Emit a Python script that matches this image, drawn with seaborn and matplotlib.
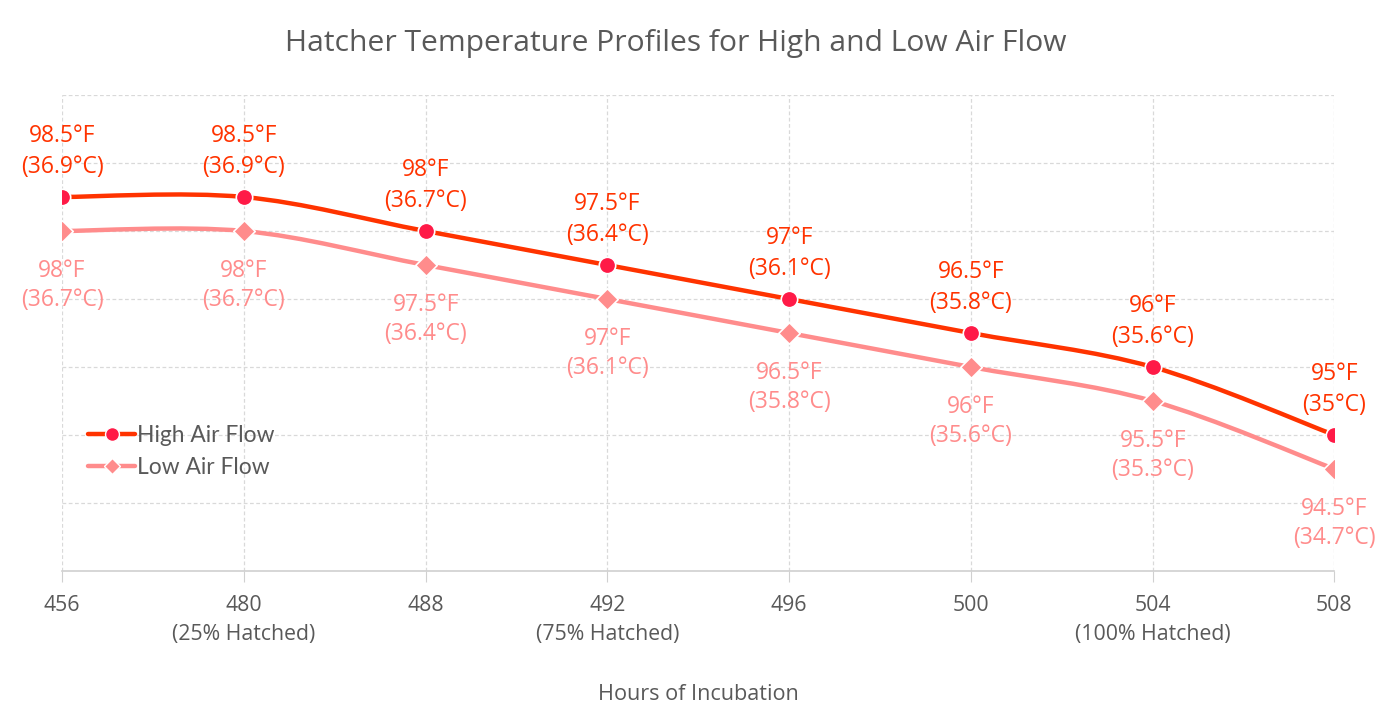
"""
Hatcher temperature profiles, high vs low air flow.
"""

import matplotlib
matplotlib.use("Agg")
import matplotlib.pyplot as plt
from matplotlib.path import Path
from matplotlib.patches import PathPatch
from matplotlib.lines import Line2D
import seaborn as sns
import pandas as pd

hours = ["456", "480", "488", "492", "496", "500", "504", "508"]
notes = ["", "(25% Hatched)", "", "(75% Hatched)", "", "", "(100% Hatched)", ""]
high_f = [98.5, 98.5, 98, 97.5, 97, 96.5, 96, 95]
high_c = [36.9, 36.9, 36.7, 36.4, 36.1, 35.8, 35.6, 35]
low_f = [98, 98, 97.5, 97, 96.5, 96, 95.5, 94.5]
low_c = [36.7, 36.7, 36.4, 36.1, 35.8, 35.6, 35.3, 34.7]

HIGH_LINE = "#ff3300"
HIGH_MARK = "#ff1a47"
LOW_COL = "#ff8c8c"
TEXT = "#595959"


def fmt(v):
    return f"{v:g}"


def smooth_path(xs, ys):
    # Catmull-Rom style bezier through the points (like a spreadsheet "smoothed line")
    pts = list(zip(xs, ys))
    n = len(pts)
    verts = [pts[0]]
    codes = [Path.MOVETO]
    for i in range(n - 1):
        p0 = pts[max(i - 1, 0)]
        p1 = pts[i]
        p2 = pts[i + 1]
        p3 = pts[min(i + 2, n - 1)]
        c1 = (p1[0] + (p2[0] - p0[0]) / 6, p1[1] + (p2[1] - p0[1]) / 6)
        c2 = (p2[0] - (p3[0] - p1[0]) / 6, p2[1] - (p3[1] - p1[1]) / 6)
        verts += [c1, c2, p2]
        codes += [Path.CURVE4] * 3
    return Path(verts, codes)


sns.set_style("white")
plt.rcParams["font.family"] = ["Open Sans", "DejaVu Sans"]

df = pd.DataFrame({"x": range(len(hours)), "high": high_f, "low": low_f})

fig = plt.figure(figsize=(13.81, 7.18), dpi=100)
ax = fig.add_axes([0.0449, 0.2047, 0.9214, 0.663])

ax.set_xlim(0, len(hours) - 1)
ax.set_ylim(93, 100)

ax.grid(True, color="#d9d9d9", linestyle=(0, (3, 2)), linewidth=0.9)
ax.set_yticks(range(93, 101))
ax.tick_params(axis="y", left=False, labelleft=False)

for col, color, lw in [("low", LOW_COL, 3.2), ("high", HIGH_LINE, 3.2)]:
    patch = PathPatch(smooth_path(df["x"], df[col]), facecolor="none",
                      edgecolor=color, linewidth=lw, capstyle="round",
                      transform=ax.transData, zorder=3)
    ax.add_patch(patch)

sns.scatterplot(data=df, x="x", y="low", marker="D", s=120, color=LOW_COL,
                edgecolor="white", linewidth=1.2, ax=ax, zorder=4, legend=False)
sns.scatterplot(data=df, x="x", y="high", marker="o", s=140, color=HIGH_MARK,
                edgecolor="white", linewidth=1.2, ax=ax, zorder=4, legend=False)

for i in range(len(hours)):
    ax.annotate(f"{fmt(high_f[i])}°F\n({fmt(high_c[i])}°C)", (i, high_f[i]),
                xytext=(0, 13), textcoords="offset points", ha="center", va="bottom",
                fontsize=16.5, color=HIGH_LINE, linespacing=1.36)
    ax.annotate(f"{fmt(low_f[i])}°F\n({fmt(low_c[i])}°C)", (i, low_f[i]),
                xytext=(0, -20), textcoords="offset points", ha="center", va="top",
                fontsize=16.5, color=LOW_COL, linespacing=1.3)

ax.set_xticks(range(len(hours)))
ax.set_xticklabels([h + ("\n" + n if n else "\n") for h, n in zip(hours, notes)],
                   fontsize=15.3, color=TEXT, linespacing=1.5)
ax.tick_params(axis="x", bottom=True, length=8, color="#d0d0d0", pad=9)

for side in ["top", "right", "left"]:
    ax.spines[side].set_visible(False)
ax.spines["bottom"].set_color("#d0d0d0")
ax.spines["bottom"].set_linewidth(1.2)

ax.set_xlabel("Hours of Incubation", fontsize=15.6, color=TEXT, labelpad=28)
ax.set_ylabel("")
fig.text(0.489, 0.94, "Hatcher Temperature Profiles for High and Low Air Flow",
         fontsize=21.6, color=TEXT, ha="center", va="center")

handles = [
    Line2D([], [], color=HIGH_LINE, linewidth=3.2, marker="o", markersize=10,
           markerfacecolor=HIGH_MARK, markeredgecolor="white"),
    Line2D([], [], color=LOW_COL, linewidth=3.2, marker="D", markersize=8.5,
           markerfacecolor=LOW_COL, markeredgecolor="white"),
]
leg = ax.legend(handles, ["High Air Flow", "Low Air Flow"], loc="upper left",
                bbox_to_anchor=(0.004, 0.35), frameon=False, handlelength=2.1,
                handletextpad=0.05, labelspacing=0.5,
                prop={"family": "Lato", "size": 16.4})
for t in leg.get_texts():
    t.set_color(TEXT)

fig.savefig("out.png", dpi=100)
